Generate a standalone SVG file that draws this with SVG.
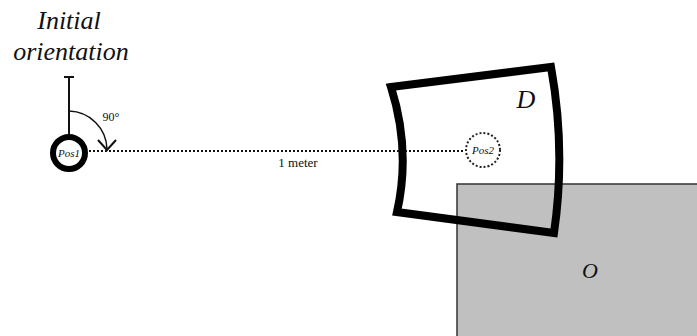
<svg xmlns="http://www.w3.org/2000/svg" width="697" height="336" viewBox="0 0 697 336">
<style>
.t{font-family:'Liberation Serif','DejaVu Serif',serif;fill:#111}
.it{font-style:italic}
</style>
<rect width="697" height="336" fill="#fff"/>
<g id="title"><text class="t it" x="69" y="29" font-size="26" text-anchor="middle">Initial</text><text class="t it" x="71" y="60" font-size="26" text-anchor="middle">orientation</text></g>
<g id="obstacle"><rect x="457" y="184" width="245" height="160" fill="#c0c0c0" stroke="#333" stroke-width="1.5"/><text class="t it" x="590" y="278" font-size="22" text-anchor="middle">O</text></g>
<g id="connectors" fill="none" stroke="#111">
<line x1="69" y1="77" x2="69" y2="135" stroke-width="2"/>
<line x1="64" y1="77" x2="74" y2="77" stroke-width="2"/>
<path d="M69 111 A39 39 0 0 1 107 149" stroke-width="1.5"/>
<path d="M98 140 L107 150 L116 140" stroke-width="2"/>
<line x1="89" y1="151" x2="465" y2="151" stroke-width="2" stroke-dasharray="2 2"/>
</g>
<g id="pos1"><circle cx="69" cy="153" r="16" fill="#fff" stroke="#000" stroke-width="6"/><text class="t it" x="69" y="157" font-size="11" text-anchor="middle">Pos1</text></g>
<g id="angle"><text class="t" x="111" y="121" font-size="12" text-anchor="middle" fill="#444">90°</text></g>
<g id="distance"><text class="t" x="298" y="167" font-size="13" text-anchor="middle" fill="#444">1 meter</text></g>
<g id="region-d"><path d="M391 87 L551 67 Q566 150 554 233 L397 212 Q411 150 391 87 Z" fill="none" stroke="#000" stroke-width="8" stroke-linejoin="miter"/><text class="t it" x="526" y="108" font-size="26" text-anchor="middle">D</text></g>
<g id="pos2"><circle cx="483" cy="150" r="17" fill="none" stroke="#222" stroke-width="2" stroke-dasharray="2 2"/><text class="t it" x="483" y="154" font-size="11" text-anchor="middle" fill="#444">Pos2</text></g>
</svg>
